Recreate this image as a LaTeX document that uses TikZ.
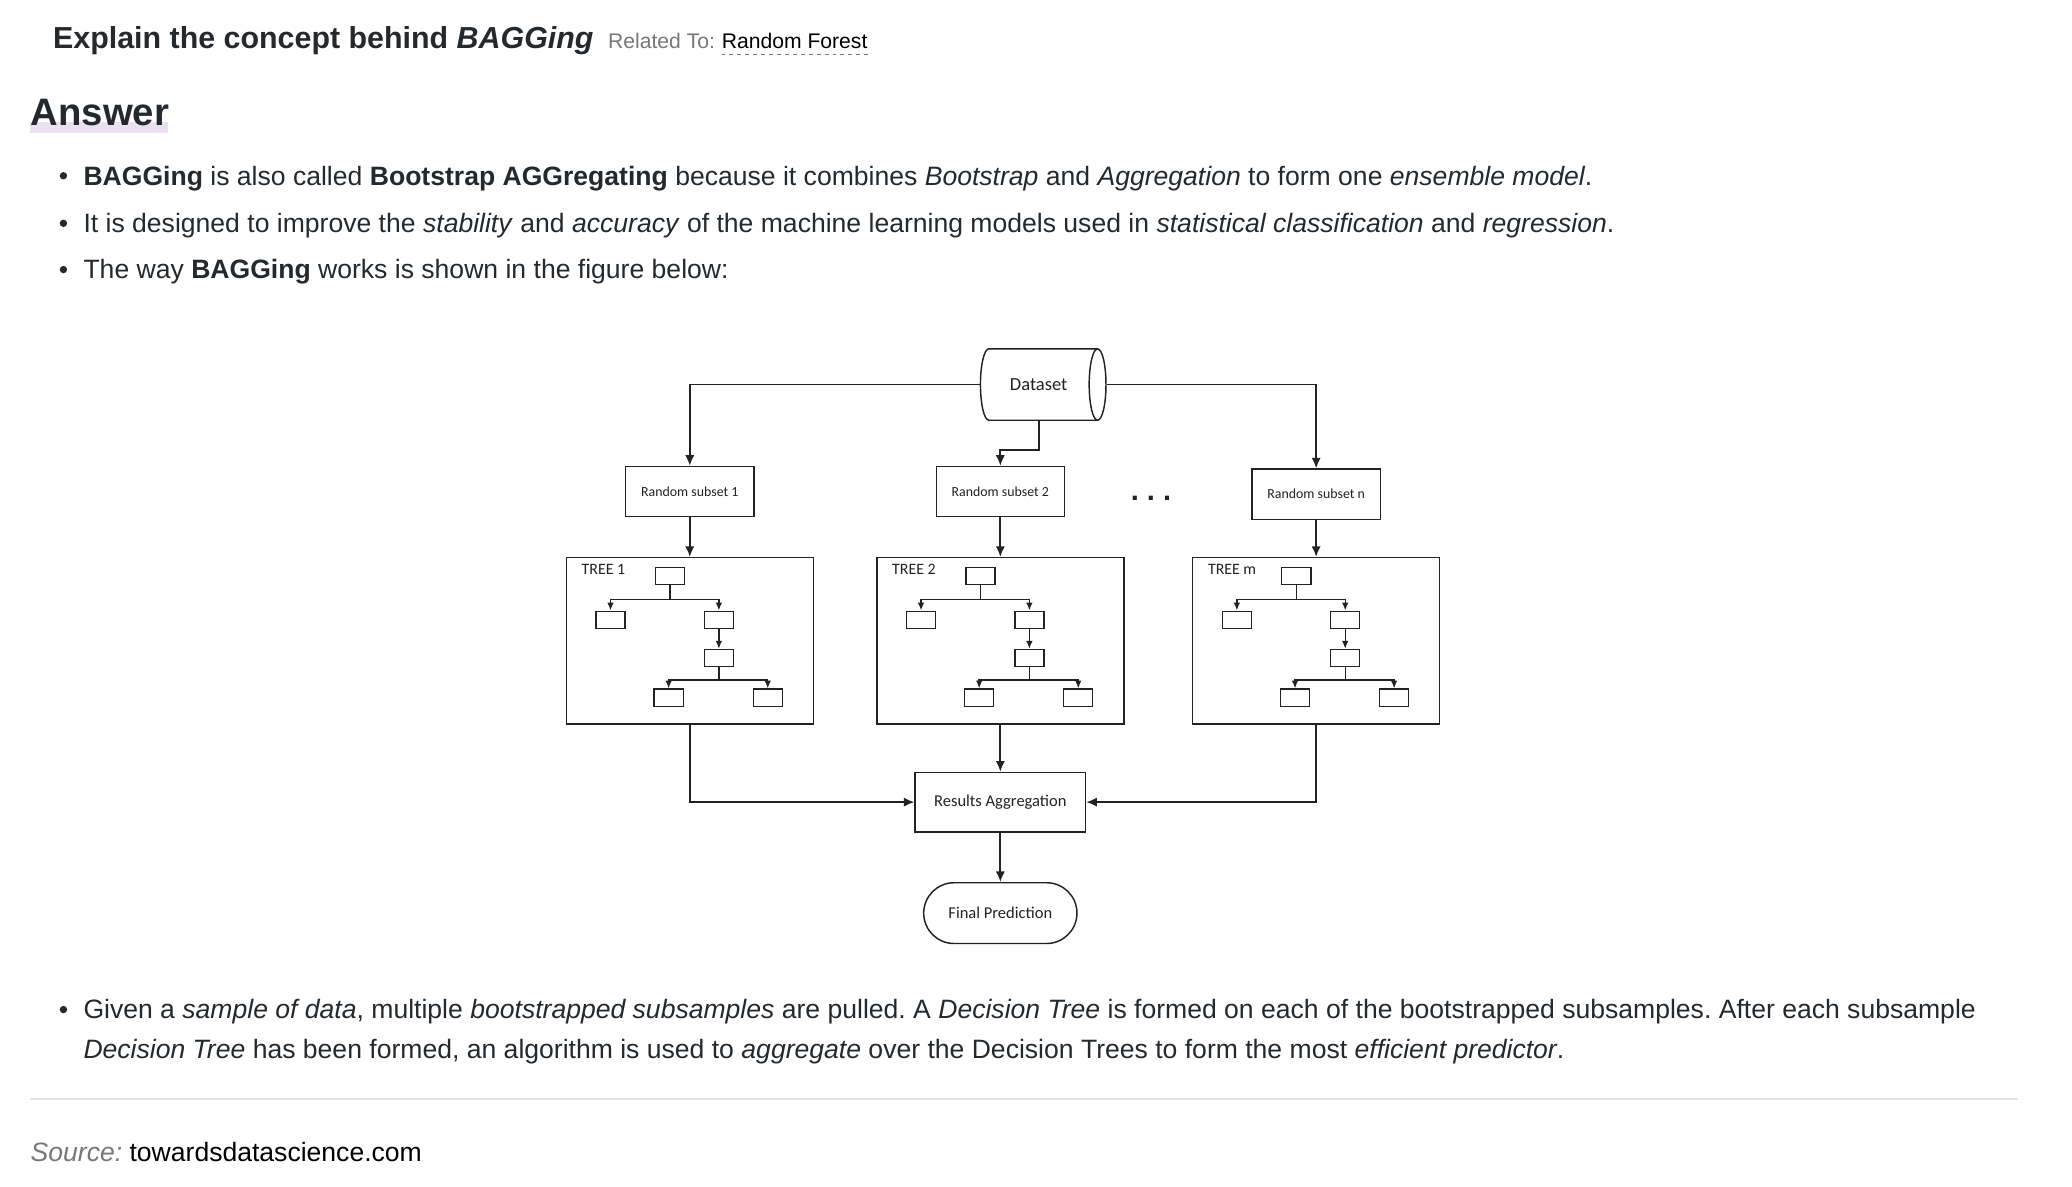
\documentclass[tikz,border=0pt]{standalone}
\usepackage{fontspec}
\setmainfont{Liberation Sans}
\newfontfamily\diagfont{Carlito}
\usetikzlibrary{positioning,shapes.geometric,arrows.meta}
\definecolor{txt}{HTML}{24292E}
\definecolor{lightgray}{HTML}{777777}
\definecolor{hilite}{HTML}{EBE0EF}
\definecolor{rule}{HTML}{E4E4E4}
\definecolor{ln}{HTML}{222222}
\newcommand{\fs}[1]{\fontsize{#1}{#1}\selectfont}
\frenchspacing

\begin{document}
\begin{tikzpicture}
  [x=1pt,y=-1pt,every node/.style={inner sep=0pt,text=txt},
   para/.style={anchor=base west,font=\fs{20.1}},
   box/.style={draw=ln,line width=1.1pt,font=\diagfont\fs{10.5},text=ln},
   leaf/.style={draw=ln,line width=1pt,minimum width=22pt,minimum height=13pt},
   arr/.style={draw=ln,line width=1.4pt,-{Latex[length=8pt,width=7pt]}},
   tarr/.style={draw=ln,line width=1.1pt,-{Latex[length=6pt,width=5pt]}}]
  \useasboundingbox (0,0) rectangle (1568,898);

  % heading
  \node[anchor=base west,font=\fs{23}\bfseries] (title) at (40,37) {Explain the concept behind \textit{BAGGing}};
  \node[anchor=base west,font=\fs{16},text=lightgray] (rel) at (460,37) {Related To:};
  \node[anchor=base west,font=\fs{16},text=black] (rf) at (546,37) {Random Forest};
  \draw[dashed,line width=0.8pt,lightgray] ([yshift=-4pt]rf.base west) -- ([yshift=-4pt]rf.base east);

  \fill[hilite] (23,92) rectangle (127,101);
  \node[anchor=base west,font=\fs{29}\bfseries] (ans) at (23,95) {Answer};

  % bullets
  \foreach \y in {133,169,204,764}
    \fill[txt] (48,\y) circle (2.8);
  \node[para] (b1) at (63,140) {\textbf{BAGGing} is also called \textbf{Bootstrap AGGregating} because it combines \textit{Bootstrap} and \textit{Aggregation} to form one \textit{ensemble model}.};
  \node[para] (b2) at (63,176) {It is designed to improve the \textit{stability} and \textit{accuracy} of the machine learning models used in \textit{statistical classification} and \textit{regression}.};
  \node[para] (b3) at (63,211) {The way \textbf{BAGGing} works is shown in the figure below:};

  % diagram
  \node[box,cylinder,aspect=1.4,minimum width=54pt,minimum height=95pt,font=\diagfont\fs{14}] (data) at (786,291) {Dataset};
  \node[box,minimum width=97pt,minimum height=38pt] (sub1) at (522,372) {Random subset 1};
  \node[box,minimum width=97pt,minimum height=38pt] (sub2) at (757,372) {Random subset 2};
  \node[box,minimum width=97pt,minimum height=38pt] (subm) at (996,374) {Random subset n};
  \node[anchor=base,font=\bfseries\fs{22},text=ln] (dots) at (871,379) {. . .};

  \foreach \n/\cx/\lab in {1/522/TREE 1,2/757/TREE 2,m/996/TREE m}{
    \node[box,minimum width=187pt,minimum height=126pt] (tree\n) at (\cx,485) {};
    \node[anchor=west,font=\diagfont\fs{12},text=ln] (tl\n) at (\cx-82,431) {\lab};
    \node[leaf] (r\n) at (\cx-15,436) {};
    \node[leaf] (a\n) at (\cx-60,469) {};
    \node[leaf] (b\n) at (\cx+22,469) {};
    \node[leaf] (c\n) at (\cx+22,498) {};
    \node[leaf] (d\n) at (\cx-16,528) {};
    \node[leaf] (e\n) at (\cx+59,528) {};
    \draw[tarr] (r\n.south) -- ++(0,10.5) -| (a\n.north);
    \draw[tarr] (r\n.south) -- ++(0,10.5) -| (b\n.north);
    \draw[tarr] (b\n) -- (c\n);
    \draw[tarr] (c\n.south) -- ++(0,9.5) -| (d\n.north);
    \draw[tarr] (c\n.south) -- ++(0,9.5) -| (e\n.north);
  }

  \node[box,minimum width=129pt,minimum height=45pt,font=\diagfont\fs{12.5}] (agg) at (757,607) {Results Aggregation};
  \node[box,rounded corners=23pt,minimum width=116pt,minimum height=46pt,font=\diagfont\fs{12.5}] (final) at (757,691) {Final Prediction};

  \draw[arr] (data.west) -| (sub1.north);
  \draw[arr] (data.east) -| (subm.north);
  \draw[arr] (data.south) -- ++(0,22) -| (sub2.north);
  \foreach \n in {1,2,m}
    \draw[arr] (sub\n) -- (tree\n);
  \draw[arr] (tree2) -- (agg);
  \draw[arr] (tree1.south) |- (agg.west);
  \draw[arr] (treem.south) |- (agg.east);
  \draw[arr] (agg) -- (final);

  % closing text
  \node[para] (b4) at (63,771) {Given a \textit{sample of data}, multiple \textit{bootstrapped subsamples} are pulled. A \textit{Decision Tree} is formed on each of the bootstrapped subsamples. After each subsample};
  \node[para] (b5) at (63,801) {\textit{Decision Tree} has been formed, an algorithm is used to \textit{aggregate} over the Decision Trees to form the most \textit{efficient predictor}.};
  \draw[rule,line width=1.5pt] (23,832) -- (1527,832);
  \node[anchor=base west,font=\fs{20.1}] (src) at (23,879) {\textcolor{lightgray}{\textit{Source:}} \textcolor{black}{towardsdatascience.com}};
\end{tikzpicture}
\end{document}
